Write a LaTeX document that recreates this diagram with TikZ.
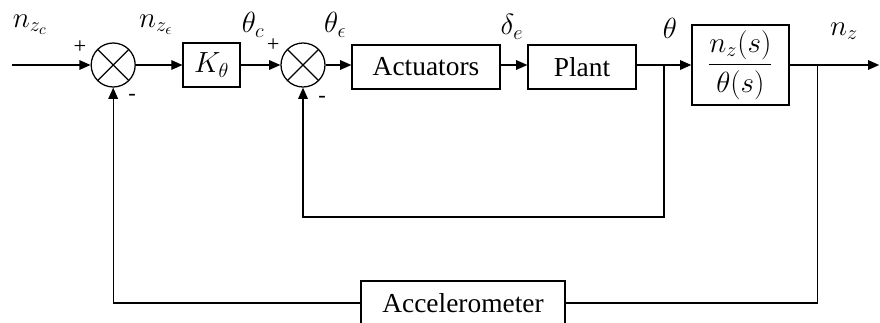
\documentclass[tikz,border=0pt]{standalone}
\usepackage{amsmath, amsfonts, amssymb}
\usepackage{fontspec}
\setmainfont{Liberation Serif}
\usetikzlibrary{positioning, arrows.meta}

\tikzset{
    blockbox/.style={draw, line width=0.9pt, minimum height=1.1cm, inner sep=0pt,
        font=\fontsize{19.5}{22}\selectfont},
    sumnode/.style={draw, circle, line width=0.9pt, minimum size=1.1cm, inner sep=0pt,
        path picture={
            \draw[line width=0.9pt] (path picture bounding box.north west) -- (path picture bounding box.south east);
            \draw[line width=0.9pt] (path picture bounding box.south west) -- (path picture bounding box.north east);
        }},
    sig/.style={font=\fontsize{21}{23}\selectfont},
    sgn/.style={font=\fontsize{16}{18}\selectfont},
    wire/.style={line width=0.9pt, -{Triangle[length=0.28cm, width=0.24cm]}},
    plainwire/.style={line width=0.9pt}
}

\begin{document}
\begin{tikzpicture}
        \clip (0,-6.425) rectangle (22,1.625);
        % forward path
        \coordinate (in) at (0.3,0);
        \node[sumnode] (sum1) at (2.83,0) {};
        \node[blockbox, minimum width=1.425cm] (K) at (5.29,0) {$K_\theta$};
        \node[sumnode] (sum2) at (7.575,0) {};
        \node[blockbox, minimum width=3.7cm] (act) at (10.65,-0.05) {Actuators};
        \node[blockbox, minimum width=2.7cm] (plant) at (14.55,-0.05) {Plant};
        \node[blockbox, minimum width=2.425cm, minimum height=2.0cm, font=\fontsize{21}{23}\selectfont] (tf) at (18.51,0) {$\dfrac{n_z(s)}{\theta(s)}$};
        \coordinate (out) at (21.98,0);
        \coordinate (thb) at (16.6,0);
        \coordinate (nzb) at (20.43,0);
        \coordinate (thdown) at (16.6,-3.8);
        \node[blockbox, minimum width=5.1cm] (acc) at (11.575,-5.95) {Accelerometer};

        % signal names
        \node[sig] (lnzc) at (0.75,1.0) {$n_{z_c}$};
        \node[sig] (lnze) at (3.9,1.0) {$n_{z_\epsilon}$};
        \node[sig] (lthc) at (6.33,1.0) {$\theta_c$};
        \node[sig] (lthe) at (8.38,1.0) {$\theta_\epsilon$};
        \node[sig] (lde) at (12.8,0.95) {$\delta_e$};
        \node[sig] (lth) at (16.75,0.92) {$\theta$};
        \node[sig] (lnz) at (21.1,0.85) {$n_z$};
        \node[sgn] (p1) at (2.0,0.45) {+};
        \node[sgn] (m1) at (3.3,-0.8) {-};
        \node[sgn] (p2) at (6.83,0.5) {+};
        \node[sgn] (m2) at (8.05,-0.85) {-};

        \draw[wire] (in) -- (sum1);
        \draw[wire] (sum1) -- (K);
        \draw[wire] (K) -- (sum2);
        \draw[wire] (sum2) -- (act.west |- sum2);
        \draw[wire] (act.east |- sum2) -- (plant.west |- sum2);
        \draw[wire] (plant.east |- sum2) -- (tf);
        \draw[wire] (tf) -- (out);

        % feedback loops
        \draw[wire] (thb) -- (thdown) -| (sum2.south);
        \draw[plainwire] (nzb) |- (acc.east);
        \draw[wire] (acc.west) -| (sum1.south);
    \end{tikzpicture}
\end{document}
